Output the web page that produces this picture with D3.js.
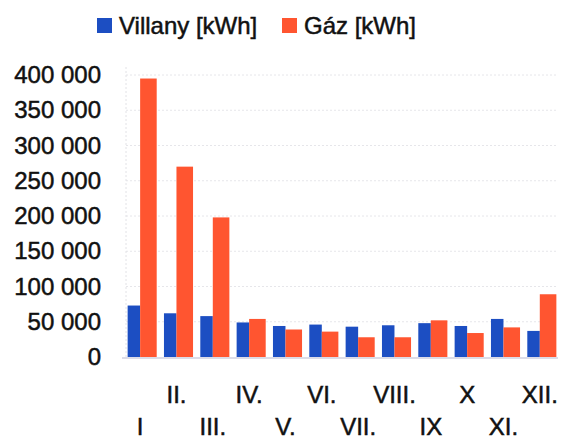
<!DOCTYPE html>
<html>
<head>
<meta charset="utf-8">
<script src="https://cdn.jsdelivr.net/npm/d3@7"></script>
<style>
  body { margin: 0; background: #fff; }
  text { font-family: "Liberation Sans", Arial, sans-serif; fill: #111; stroke: #111; stroke-width: 0.5px; }
</style>
</head>
<body>
<div id="chart"></div>
<script>
const months = ["I", "II.", "III.", "IV.", "V.", "VI.", "VII.", "VIII.", "IX", "X", "XI.", "XII."];
const villany = [73000, 62000, 58000, 49000, 44000, 46000, 43000, 45000, 48000, 44000, 54000, 37000];
const gaz = [395000, 270000, 198000, 54000, 39000, 36000, 28000, 28000, 52000, 34000, 42000, 89000];
const yTicks = [0, 50000, 100000, 150000, 200000, 250000, 300000, 350000, 400000];
const seriesNames = ["Villany [kWh]", "Gáz [kWh]"];
const colors = ["#1c4ec2", "#ff5530"];

const W = 562, H = 439;
const svg = d3.select("#chart").append("svg")
    .attr("width", W)
    .attr("height", H)

const x = d3.scaleBand().domain(months).range([124, 560]).paddingInner(0.2).paddingOuter(0.1);
// blue bar a bit narrower than the orange one, like in the original
const split = x.bandwidth() * 0.43;
const y = d3.scaleLinear().domain([0, 400000]).range([357, 75]);

// faint grid
svg.append("g").selectAll("line").data(yTicks.slice(1)).join("line")
    .attr("x1", 126).attr("x2", 556)
    .attr("y1", d => y(d)).attr("y2", d => y(d))
    .attr("stroke", "#e6e6ea").attr("stroke-dasharray", "2,2");
svg.append("line")
    .attr("x1", 126).attr("x2", 126).attr("y1", y(400000) - 8).attr("y2", y(0))
    .attr("stroke", "#e2e2e6").attr("stroke-dasharray", "2,2");
svg.append("line")
    .attr("x1", 122).attr("x2", 558).attr("y1", y(0) + 1).attr("y2", y(0) + 1)
    .attr("stroke", "#dcdce8").attr("stroke-width", 2);

// y axis labels
const yAxis = d3.axisLeft(y).tickValues(yTicks)
    .tickFormat(d => d3.format(",")(d).replace(/,/g, " "))
    .tickSize(0).tickPadding(0);
svg.append("g").attr("transform", "translate(101,0)").call(yAxis)
    .call(g => g.select(".domain").remove())
    .call(g => g.selectAll("text").attr("font-size", 24).attr("fill", "#111")
        .style("font-family", "'Liberation Sans', Arial, sans-serif"));

// bars
const groups = svg.append("g").selectAll("g").data(months).join("g")
    .attr("transform", d => `translate(${x(d)},0)`);
groups.append("rect")
    .attr("x", 0)
    .attr("width", split)
    .attr("y", (d, i) => y(villany[i]))
    .attr("height", (d, i) => y(0) - y(villany[i]))
    .attr("fill", colors[0]);
groups.append("rect")
    .attr("x", split)
    .attr("width", x.bandwidth() - split)
    .attr("y", (d, i) => y(gaz[i]))
    .attr("height", (d, i) => y(0) - y(gaz[i]))
    .attr("fill", colors[1]);

// x labels, staggered
svg.append("g").selectAll("text").data(months).join("text")
    .attr("x", d => x(d) + x.bandwidth() / 2 - 2)
    .attr("y", (d, i) => i % 2 === 1 ? 403 : 435)
    .attr("text-anchor", "middle")
    .attr("font-size", 24)
    .text(d => d);

// legend
const legendX = [97, 282];
const legend = svg.append("g").selectAll("g").data(seriesNames).join("g")
    .attr("transform", (d, i) => `translate(${legendX[i]},18)`);
legend.append("rect").attr("width", 15).attr("height", 15).attr("fill", (d, i) => colors[i]);
legend.append("text").attr("x", 22).attr("y", 16).attr("font-size", 24).text(d => d);
</script>
</body>
</html>
